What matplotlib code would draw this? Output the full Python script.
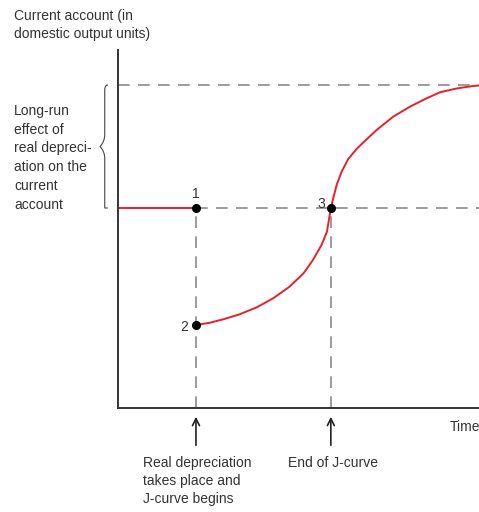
import numpy as np
import matplotlib.pyplot as plt
from matplotlib.path import Path
from matplotlib.patches import PathPatch

plt.rcParams['font.family'] = ['Liberation Sans', 'DejaVu Sans']

# time and current account (arbitrary units)
t_dep = 1.0        # real depreciation takes place
t_end = 2.73       # end of J-curve
ca_start = 2.0     # initial current account
ca_low = 0.83      # point 2
ca_long = 3.23     # long-run level

before_t = [0.0, t_dep]
before_ca = [ca_start, ca_start]

curve_t = [1.0, 1.18, 1.35, 1.56, 1.78, 1.99, 2.2, 2.38, 2.5, 2.61, 2.68, 2.73,
           2.76, 2.804, 2.868, 2.953, 3.06, 3.145, 3.317, 3.529, 3.744, 3.958,
           4.128, 4.342, 4.555, 4.63]
curve_ca = [0.83, 0.853, 0.887, 0.937, 1.007, 1.097, 1.213, 1.347, 1.48, 1.63,
            1.763, 2.0, 2.097, 2.23, 2.363, 2.49, 2.59, 2.655, 2.78, 2.913,
            3.013, 3.097, 3.157, 3.195, 3.22, 3.225]

points_t = [t_dep, t_dep, t_end]
points_ca = [ca_start, ca_low, ca_start]
point_labels = ['1', '2', '3']

fig = plt.figure(figsize=(4.79, 5.12), dpi=100)
ax = fig.add_axes([118/479, 104/512, 361/479, 358/512])
ax.set_xlim(0, 4.63)
ax.set_ylim(0, 3.58)
for s in ['top', 'right']:
    ax.spines[s].set_visible(False)
for s in ['left', 'bottom']:
    ax.spines[s].set_color('#333333')
    ax.spines[s].set_linewidth(1.4)
ax.set_xticks([])
ax.set_yticks([])

red = '#e8202a'
gray = '#8a8a8a'
dash = (0, (7, 5))

ax.plot([0, 4.63], [ca_long, ca_long], color=gray, lw=1.2, ls=dash)
ax.plot([t_dep, 4.63], [ca_start, ca_start], color=gray, lw=1.2, ls=dash)
ax.plot([t_dep, t_dep], [0, ca_start], color=gray, lw=1.2, ls=dash)
ax.plot([t_end, t_end], [0, ca_start], color=gray, lw=1.2, ls=dash)

ax.plot(before_t, before_ca, color=red, lw=1.4, solid_capstyle='butt')
ax.plot(curve_t, curve_ca, color=red, lw=1.4, solid_joinstyle='round')
ax.plot(points_t, points_ca, 'o', color='black', ms=5.5, zorder=5)

offsets = [(0.0, 0.07, 'center', 'bottom'), (-0.1, -0.02, 'right', 'center'),
           (-0.07, 0.04, 'right', 'center')]
for x, y, lab, (dx, dy, ha, va) in zip(points_t, points_ca, point_labels, offsets):
    ax.text(x + dx, y + dy, lab, ha=ha, va=va, fontsize=10, color='#333333')

# brace on the left
bx_tip, bx_mid, bx_pt = -0.13, -0.17, -0.23
y0, y1 = ca_start, ca_long
ym = (y0 + y1) / 2
verts = [(bx_tip, y1), (bx_mid, y1), (bx_mid, y1 - 0.05), (bx_mid, y1 - 0.1),
         (bx_mid, ym + 0.12), (bx_mid, ym + 0.05), (bx_pt, ym),
         (bx_mid, ym - 0.05), (bx_mid, ym - 0.12),
         (bx_mid, y0 + 0.1), (bx_mid, y0 + 0.05), (bx_mid, y0), (bx_tip, y0)]
codes = [Path.MOVETO, Path.CURVE3, Path.CURVE3, Path.LINETO,
         Path.LINETO, Path.CURVE3, Path.CURVE3,
         Path.CURVE3, Path.CURVE3,
         Path.LINETO, Path.CURVE3, Path.CURVE3, Path.LINETO]
ax.add_patch(PathPatch(Path(verts, codes), fill=False, lw=0.8, ec='#444444',
                       clip_on=False))

# arrows and labels under the axis
for x in [t_dep, t_end]:
    ax.annotate('', xy=(x, -0.06), xytext=(x, -0.40), annotation_clip=False,
                arrowprops=dict(arrowstyle='->,head_length=0.5,head_width=0.25',
                                color='#222222', lw=1.2))

ax.text(0.32, -0.48, 'Real depreciation\ntakes place and\nJ-curve begins',
        ha='left', va='top', fontsize=10, linespacing=1.35, color='#333333',
        clip_on=False)
ax.text(t_end - 0.55, -0.48, 'End of J-curve', ha='left', va='top',
        fontsize=10, color='#333333', clip_on=False)
ax.text(4.25, -0.12, 'Time', ha='left', va='top', fontsize=10,
        color='#333333', clip_on=False)

fig.text(14/479, 1 - 9/512, 'Current account (in\ndomestic output units)',
         ha='left', va='top', fontsize=10, linespacing=1.38, color='#333333')
fig.text(14/479, 1 - 104/512,
         'Long-run\neffect of\nreal depreci-\nation on the\ncurrent\naccount',
         ha='left', va='top', fontsize=10, linespacing=1.43, color='#333333')

fig.savefig('out.png', dpi=100)
